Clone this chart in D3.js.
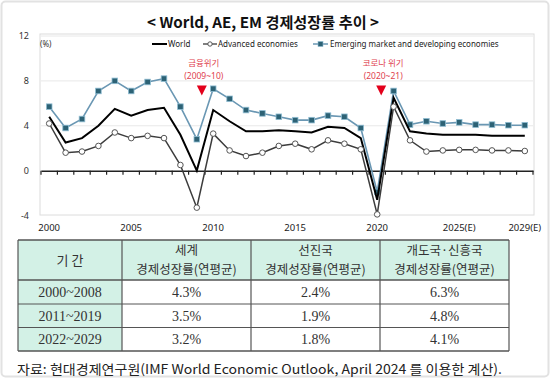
<!DOCTYPE html>
<html>
<head>
<meta charset="utf-8">
<script src="https://cdn.jsdelivr.net/npm/d3@7"></script>
<style>
  html, body { margin: 0; padding: 0; background: #fff; }
  svg { display: block; }
</style>
</head>
<body>
<svg id="chart" width="550" height="378"></svg>
<script>
const years = [2000, 2001, 2002, 2003, 2004, 2005, 2006, 2007, 2008, 2009,
               2010, 2011, 2012, 2013, 2014, 2015, 2016, 2017, 2018, 2019,
               2020, 2021, 2022, 2023, 2024, 2025, 2026, 2027, 2028, 2029];
const world = [4.8, 2.5, 2.9, 4.0, 5.5, 4.9, 5.4, 5.6, 3.2, 0.0,
               5.4, 4.4, 3.5, 3.5, 3.6, 3.5, 3.4, 3.9, 3.8, 2.9,
               -2.6, 6.5, 3.5, 3.3, 3.2, 3.2, 3.2, 3.1, 3.1, 3.1];
const advanced = [4.2, 1.6, 1.7, 2.2, 3.4, 2.9, 3.1, 2.9, 0.5, -3.3,
                  3.3, 1.8, 1.3, 1.6, 2.2, 2.4, 1.9, 2.7, 2.4, 1.9,
                  -3.9, 5.7, 2.7, 1.7, 1.8, 1.85, 1.85, 1.8, 1.8, 1.75];
const emerging = [5.7, 3.8, 4.6, 7.1, 8.0, 7.1, 7.9, 8.2, 5.7, 2.8,
                  7.3, 6.4, 5.4, 5.1, 4.8, 4.5, 4.5, 4.9, 4.8, 3.8,
                  -1.9, 7.1, 4.1, 4.4, 4.2, 4.3, 4.1, 4.1, 4.05, 4.05];
const xTickLabels = {2000: "2000", 2005: "2005", 2010: "2010", 2015: "2015",
                     2020: "2020", 2025: "2025(E)", 2029: "2029(E)"};
const yTicks = [-4, 0, 4, 8, 12];
const crises = [
  {year: 2009, shift: 5, line1: "금융위기", line2: "(2009~10)"},
  {year: 2020, shift: 4, line1: "코로나 위기", line2: "(2020~21)"}
];

// table data
const tableHead = [["기 간"], ["세계", "경제성장률(연평균)"], ["선진국", "경제성장률(연평균)"], ["개도국·신흥국", "경제성장률(연평균)"]];
const periods = ["2000~2008", "2011~2019", "2022~2029"];
const worldAvg = ["4.3%", "3.5%", "3.2%"];
const advancedAvg = ["2.4%", "1.9%", "1.8%"];
const emergingAvg = ["6.3%", "4.8%", "4.1%"];

const svg = d3.select("#chart");
const sans = "'Noto Sans', 'Noto Sans CJK KR', sans-serif";
const kr = "'Noto Sans CJK KR', sans-serif";

// outer frame
svg.append("rect")
  .attr("x", 1.5).attr("y", 1.5).attr("width", 547).attr("height", 375)
  .attr("rx", 4).attr("fill", "#fff").attr("stroke", "#e2e2e2").attr("stroke-width", 2);

// title
svg.append("text")
  .attr("x", 263).attr("y", 28)
  .attr("text-anchor", "middle")
  .attr("font-family", kr).attr("font-weight", "bold").attr("font-size", 15)
  .attr("textLength", 232).attr("lengthAdjust", "spacingAndGlyphs")
  .attr("fill", "#111")
  .text("< World, AE, EM 경제성장률 추이 >");

const x = d3.scaleBand()
  .domain(years)
  .range([41, 533]);
const cx = d => x(d) + x.bandwidth() / 2;

const y = d3.scaleLinear()
  .domain([-4, 12])
  .range([215.5, 36]);

// plot box
svg.append("rect")
  .attr("x", 40).attr("y", 34).attr("width", 494).attr("height", 181)
  .attr("fill", "none").attr("stroke", "#dcdcdc");

// grid
svg.append("g")
  .selectAll("line")
  .data(yTicks.filter(v => v > 0))
  .enter().append("line")
  .attr("x1", 41).attr("x2", 533)
  .attr("y1", d => y(d)).attr("y2", d => y(d))
  .attr("stroke", "#e8e8e8");

// y labels
svg.append("g")
  .selectAll("text")
  .data(yTicks)
  .enter().append("text")
  .attr("x", 29).attr("y", d => y(d) + 3)
  .attr("text-anchor", "end")
  .attr("font-family", sans).attr("font-size", 9)
  .attr("fill", "#333")
  .text(d => d);

svg.append("text")
  .attr("x", 40).attr("y", 47)
  .attr("font-family", sans).attr("font-size", 8)
  .attr("fill", "#333")
  .text("(%)");

// zero axis with ticks between categories
const zeroAxis = svg.append("g")
  .attr("transform", "translate(0," + y(0) + ")")
  .call(d3.axisBottom(x).tickValues([]).tickSizeOuter(0));
zeroAxis.select(".domain").attr("stroke", "#222").attr("stroke-width", 1.5);
zeroAxis.selectAll("line.bt")
  .data(years.concat([null]))
  .enter().append("line")
  .attr("class", "bt")
  .attr("x1", (d, i) => 41 + i * x.bandwidth())
  .attr("x2", (d, i) => 41 + i * x.bandwidth())
  .attr("y1", 0).attr("y2", 4)
  .attr("stroke", "#222").attr("stroke-width", 1.2);

// x labels
svg.append("g")
  .selectAll("text")
  .data(years.filter(d => xTickLabels[d]))
  .enter().append("text")
  .attr("x", d => cx(d)).attr("y", 231)
  .attr("text-anchor", "middle")
  .attr("font-family", sans).attr("font-size", 9.5)
  .attr("fill", "#222")
  .text(d => xTickLabels[d]);

const line = d3.line().x((d, i) => cx(years[i])).y(d => y(d));

// emerging
svg.append("path").datum(emerging)
  .attr("d", line).attr("fill", "none")
  .attr("stroke", "#6a97b3").attr("stroke-width", 1.6);
svg.append("g").selectAll("rect")
  .data(emerging)
  .enter().append("rect")
  .attr("x", (d, i) => cx(years[i]) - 2.8)
  .attr("y", d => y(d) - 2.8)
  .attr("width", 5.6).attr("height", 5.6)
  .attr("fill", "#2d6275").attr("stroke", "#8fbdd3").attr("stroke-width", 0.8);

// world
svg.append("path").datum(world)
  .attr("d", line).attr("fill", "none")
  .attr("stroke", "#000").attr("stroke-width", 2);

// advanced
svg.append("path").datum(advanced)
  .attr("d", line).attr("fill", "none")
  .attr("stroke", "#3c3c3c").attr("stroke-width", 1.5);
svg.append("g").selectAll("circle")
  .data(advanced)
  .enter().append("circle")
  .attr("cx", (d, i) => cx(years[i]))
  .attr("cy", d => y(d))
  .attr("r", 2.8)
  .attr("fill", "#fff").attr("stroke", "#555").attr("stroke-width", 1);

// crisis annotations
crises.forEach(c => {
  const px = cx(c.year) + c.shift;
  svg.append("text")
    .attr("x", px + 2).attr("y", 66)
    .attr("text-anchor", "middle")
    .attr("font-family", kr).attr("font-size", 8.5)
    .attr("fill", "#e0424f")
    .text(c.line1);
  svg.append("text")
    .attr("x", px + 2).attr("y", 79)
    .attr("text-anchor", "middle")
    .attr("font-family", sans).attr("font-size", 8.5)
    .attr("fill", "#e0424f")
    .text(c.line2);
  svg.append("path")
    .attr("d", d3.line()([[px - 5, 85.5], [px + 5, 85.5], [px, 95.5]]) + "Z")
    .attr("fill", "#e3001b");
});

// legend
const lg = svg.append("g").attr("font-family", sans).attr("font-size", 8).attr("fill", "#222");
lg.append("line").attr("x1", 152).attr("x2", 167).attr("y1", 44).attr("y2", 44)
  .attr("stroke", "#000").attr("stroke-width", 2);
lg.append("text").attr("x", 168).attr("y", 47).text("World");
lg.append("line").attr("x1", 203).attr("x2", 217).attr("y1", 44).attr("y2", 44)
  .attr("stroke", "#3c3c3c").attr("stroke-width", 1.3);
lg.append("circle").attr("cx", 210).attr("cy", 44).attr("r", 2.2)
  .attr("fill", "#fff").attr("stroke", "#555");
lg.append("text").attr("x", 218).attr("y", 47).text("Advanced economies");
lg.append("line").attr("x1", 313).attr("x2", 328).attr("y1", 44).attr("y2", 44)
  .attr("stroke", "#6a97b3").attr("stroke-width", 1.5);
lg.append("rect").attr("x", 318).attr("y", 41.5).attr("width", 5).attr("height", 5)
  .attr("fill", "#2d6275").attr("stroke", "#8fbdd3").attr("stroke-width", 0.6);
lg.append("text").attr("x", 330).attr("y", 47).text("Emerging market and developing economies");

// table
const colX = [18, 122, 251, 380, 509];
const rowY = [240, 280, 304, 327.5, 351];
const mint = "#d3f1e6";
const tbl = svg.append("g");
const rows = periods.map((p, i) => [p, worldAvg[i], advancedAvg[i], emergingAvg[i]]);

// backgrounds
tbl.append("rect").attr("x", colX[0]).attr("y", rowY[0])
  .attr("width", colX[4] - colX[0]).attr("height", rowY[1] - rowY[0]).attr("fill", mint);
tbl.append("rect").attr("x", colX[0]).attr("y", rowY[1])
  .attr("width", colX[1] - colX[0]).attr("height", rowY[4] - rowY[1]).attr("fill", mint);

// grid lines
rowY.forEach((ry, i) => {
  tbl.append("line").attr("x1", colX[0]).attr("x2", colX[4]).attr("y1", ry).attr("y2", ry)
    .attr("stroke", "#555").attr("stroke-width", i === 0 || i === 4 || i === 1 ? 1.4 : 1);
});
colX.forEach(cxv => {
  tbl.append("line").attr("x1", cxv).attr("x2", cxv).attr("y1", rowY[0]).attr("y2", rowY[4])
    .attr("stroke", "#555").attr("stroke-width", 1.2);
});

// header text
tableHead.forEach((h, j) => {
  const mx = (colX[j] + colX[j + 1]) / 2;
  if (h.length === 1) {
    tbl.append("text").attr("x", mx).attr("y", 265)
      .attr("text-anchor", "middle").attr("font-family", kr).attr("font-size", 13)
      .attr("fill", "#333").text(h[0]);
  } else {
    tbl.append("text").attr("x", mx).attr("y", 255)
      .attr("text-anchor", "middle").attr("font-family", kr).attr("font-size", 12.5)
      .attr("fill", "#333").text(h[0]);
    tbl.append("text").attr("x", mx).attr("y", 274)
      .attr("text-anchor", "middle").attr("font-family", kr).attr("font-size", 12.5)
      .attr("fill", "#333").text(h[1]);
  }
});

// body text
rows.forEach((r, i) => {
  r.forEach((v, j) => {
    tbl.append("text")
      .attr("x", (colX[j] + colX[j + 1]) / 2)
      .attr("y", (rowY[i + 1] + rowY[i + 2]) / 2 + 5)
      .attr("text-anchor", "middle")
      .attr("font-family", "'Liberation Serif', 'DejaVu Serif', serif").attr("font-size", 14)
      .attr("fill", "#333")
      .text(v);
  });
});

// source
svg.append("text")
  .attr("x", 17).attr("y", 374)
  .attr("font-family", kr).attr("font-size", 13)
  .attr("textLength", 485).attr("lengthAdjust", "spacingAndGlyphs")
  .attr("fill", "#222")
  .text("자료: 현대경제연구원(IMF World Economic Outlook, April 2024 를 이용한 계산).");
</script>
</body>
</html>
